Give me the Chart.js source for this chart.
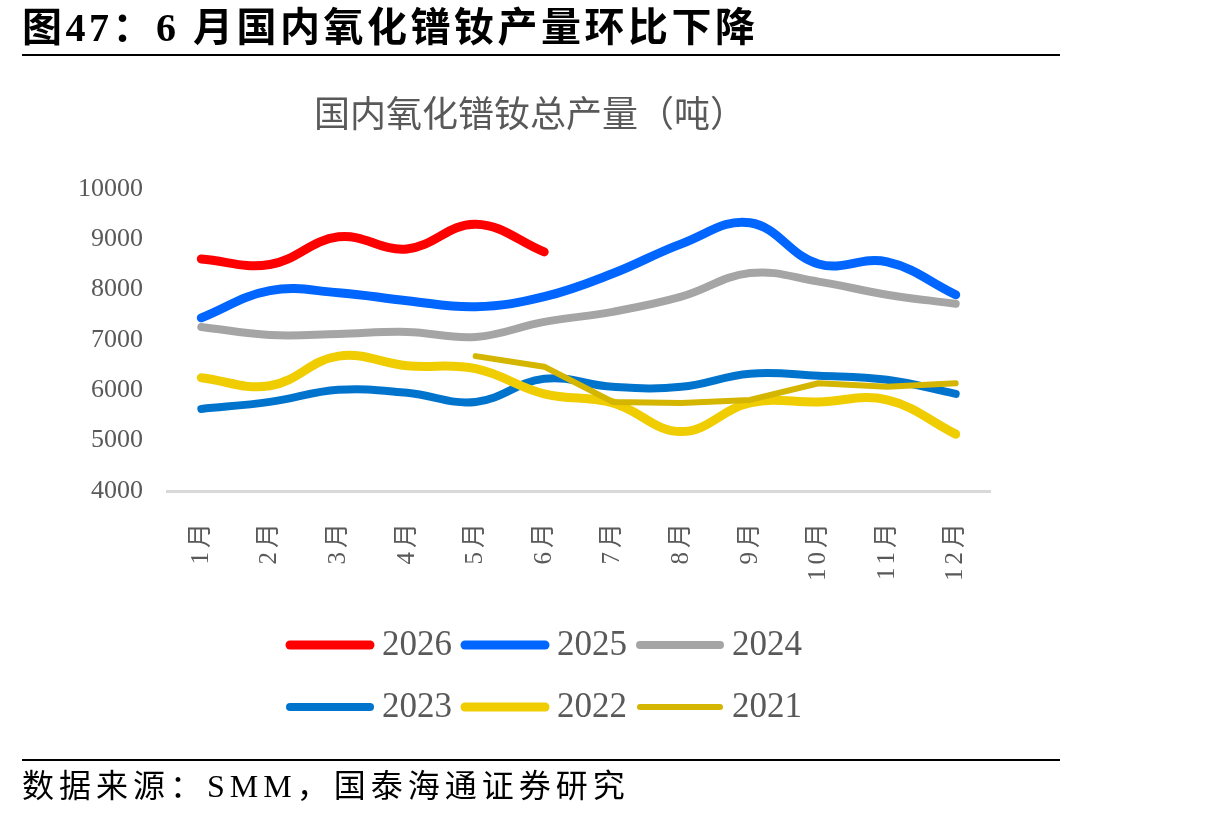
<!DOCTYPE html>
<html><head><meta charset="utf-8">
<script src="https://cdn.jsdelivr.net/npm/chart.js@4.4.1/dist/chart.umd.min.js"></script>
<style>
html,body{margin:0;padding:0;background:#fff;width:1215px;height:819px;overflow:hidden;}
#wrap{position:relative;width:1215px;height:819px;}
#c{position:absolute;left:0;top:0;}
.hdr{position:absolute;left:22px;top:8px;font-family:'Liberation Serif','Noto Sans CJK SC',serif;font-weight:bold;font-size:40px;line-height:40px;letter-spacing:3.5px;color:#000;white-space:nowrap;}
.rule{position:absolute;left:22px;width:1038px;height:2px;background:#000;}
.src{position:absolute;left:22px;top:770px;font-family:'Liberation Serif','Noto Sans CJK SC',serif;font-size:32px;line-height:32px;letter-spacing:5px;color:#000;white-space:nowrap;}
</style></head>
<body><div id="wrap"><canvas id="c" width="1215" height="819"></canvas>
<div class="hdr">图47：6 月国内氧化镨钕产量环比下降</div>
<div class="rule" style="top:54px"></div>
<div class="rule" style="top:759px"></div>
<div class="src">数据来源：SMM，国泰海通证券研究</div>
</div>
<script>
// ---- data ----
const months = ['1月','2月','3月','4月','5月','6月','7月','8月','9月','10月','11月','12月'];
const seriesNames = ['2026','2025','2024','2023','2022','2021'];
const s2026 = [8610, 8500, 9050, 8810, 9300, 8750, null, null, null, null, null, null];
const s2025 = [7440, 7980, 7940, 7780, 7660, 7860, 8320, 8910, 9330, 8510, 8550, 7900];
const s2024 = [7260, 7100, 7120, 7160, 7060, 7360, 7560, 7860, 8330, 8160, 7900, 7720];
const s2023 = [5630, 5770, 6010, 5950, 5770, 6230, 6070, 6070, 6330, 6290, 6210, 5930];
const s2022 = [6250, 6090, 6680, 6490, 6430, 5930, 5750, 5180, 5750, 5770, 5810, 5130];
const s2021 = [null, null, null, null, 6680, 6470, 5770, 5750, 5810, 6140, 6070, 6140];
const yTickValues = [4000, 5000, 6000, 7000, 8000, 9000, 10000];

// ---- styles ----
const colors = ['#FF0000', '#0066FF', '#A5A5A5', '#0074CC', '#F0CD00', '#D4B500'];
const widths = [9, 9, 8, 8, 9, 6];
const tensions = [0.4, 0.4, 0.4, 0.4, 0.4, 0];
const allSeries = [s2026, s2025, s2024, s2023, s2022, s2021];
const serif = "'Liberation Serif', 'Noto Sans CJK SC', serif";

const datasets = allSeries.map((d, i) => ({
  label: seriesNames[i],
  data: d,
  borderColor: colors[i],
  backgroundColor: colors[i],
  borderWidth: widths[i],
  tension: tensions[i],
  pointRadius: 0,
  pointHoverRadius: 0,
  borderCapStyle: 'round',
  borderJoinStyle: 'round',
  fill: false,
  spanGaps: false,
  order: allSeries.length - 1 - i
}));

// letter spacing for x tick labels (as in the reference)
function withSpacing(obj, method, spacing) {
  if (!obj || obj['_ls_' + method]) return;
  const orig = obj[method].bind(obj);
  obj[method] = function (...args) {
    const c = this.ctx;
    const prev = c.letterSpacing;
    try { c.letterSpacing = spacing; } catch (e) {}
    const r = orig(...args);
    try { c.letterSpacing = prev || '0px'; } catch (e) {}
    return r;
  };
  obj['_ls_' + method] = true;
}
const spacingPlugin = {
  id: 'spacing',
  afterLayout(chart) {
    withSpacing(chart.scales.x, 'drawLabels', '4px');
  }
};

// custom legend drawn on the canvas (two rows of three)
const legendPlugin = {
  id: 'rowLegend',
  afterDraw(chart) {
    const ctx = chart.ctx;
    const rowsY = [645, 707];
    const startX = 290, stride = 175, lineLen = 80, textGap = 92;
    ctx.save();
    chart.data.datasets.forEach((ds, i) => {
      const row = Math.floor(i / 3), col = i % 3;
      const x = startX + col * stride, y = rowsY[row];
      ctx.strokeStyle = ds.borderColor;
      ctx.lineWidth = ds.borderWidth;
      ctx.lineCap = 'round';
      ctx.beginPath();
      ctx.moveTo(x, y);
      ctx.lineTo(x + lineLen, y);
      ctx.stroke();
      ctx.fillStyle = '#595959';
      ctx.font = '35px ' + serif;
      ctx.textAlign = 'left';
      ctx.textBaseline = 'middle';
      ctx.fillText(ds.label, x + textGap, y + 1);
    });
    ctx.restore();
  }
};

new Chart(document.getElementById('c'), {
  type: 'line',
  data: { labels: months, datasets },
  plugins: [spacingPlugin, legendPlugin],
  options: {
    responsive: false,
    animation: false,
    devicePixelRatio: 1,
    layout: { padding: { left: 70, right: 225, top: 60, bottom: 219 } },
    plugins: {
      legend: { display: false },
      tooltip: { enabled: false },
      title: {
        display: true,
        text: '国内氧化镨钕总产量（吨）',
        color: '#595959',
        font: { family: "'Noto Sans CJK SC', sans-serif", size: 36, weight: 'normal', lineHeight: 1.2 },
        padding: { top: 31.5, bottom: 54.3 }
      }
    },
    scales: {
      x: {
        offset: true,
        grid: { display: false, drawTicks: false },
        border: { display: true, color: '#D9D9D9', width: 3 },
        ticks: {
          autoSkip: false, minRotation: 90, maxRotation: 90, padding: 28,
          color: '#595959', font: { family: serif, size: 25 }
        },
        afterFit: s => { s.height = 109; }
      },
      y: {
        min: 4000, max: 10000,
        grid: { display: false, drawTicks: false },
        border: { display: false },
        ticks: {
          padding: 24, color: '#595959', font: { family: serif, size: 26 },
          callback: v => String(v)
        },
        afterBuildTicks: s => { s.ticks = yTickValues.map(v => ({ value: v })); },
        afterFit: s => { s.width = 97; }
      }
    }
  }
});
</script>
</body></html>
